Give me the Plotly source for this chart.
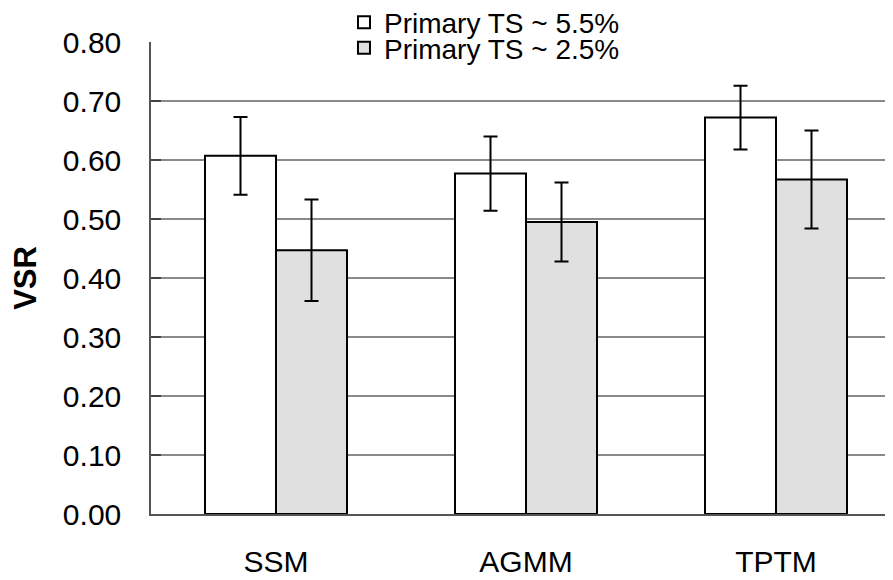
import plotly.graph_objects as go

categories = ["SSM", "AGMM", "TPTM"]
series_names = ["Primary TS ~ 5.5%", "Primary TS ~ 2.5%"]
vals_55 = [0.607, 0.577, 0.672]
err_55 = [0.066, 0.063, 0.054]
vals_25 = [0.447, 0.495, 0.567]
err_25 = [0.086, 0.067, 0.083]
y_ticks = [0.0, 0.1, 0.2, 0.3, 0.4, 0.5, 0.6, 0.7, 0.8]
y_ticktext = ["0.00", "0.10", "0.20", "0.30", "0.40", "0.50", "0.60", "0.70", "0.80"]

FONT = "Liberation Sans, Arial, sans-serif"
FS = 30
LFS = 28

fig = go.Figure()
# lower legend row (white box hides the top gridline) is drawn first,
# the upper row is drawn over it with a transparent background
fig.add_trace(go.Bar(
    x=categories, y=vals_55, name=series_names[0],
    marker=dict(color="white", line=dict(color="black", width=2)),
    error_y=dict(type="data", array=err_55, color="black", thickness=2, width=7),
    legend="legend2", showlegend=True,
))
fig.add_trace(go.Bar(
    x=categories, y=vals_25, name=series_names[1],
    marker=dict(color="#e0e0e0", line=dict(color="black", width=2)),
    error_y=dict(type="data", array=err_25, color="black", thickness=2, width=7),
    legend="legend", showlegend=True,
))

fig.update_layout(
    width=893, height=580,
    margin=dict(l=143, r=0, t=34, b=74, autoexpand=False),
    paper_bgcolor="white", plot_bgcolor="white",
    showlegend=True,
    barmode="group", bargap=0.432, bargroupgap=0,
    font=dict(family=FONT, size=FS, color="black"),
    legend2=dict(
        x=0.2573, y=1 + 19.5 / 472,
        xanchor="left", yanchor="middle",
        bgcolor="rgba(0,0,0,0)", borderwidth=0, font=dict(size=LFS),
        visible=True,
    ),
    legend=dict(
        x=0.2573, y=1 - 6 / 472,
        xanchor="left", yanchor="middle",
        bgcolor="white", borderwidth=0, font=dict(size=LFS),
        entrywidth=275, visible=True,
    ),
    xaxis=dict(
        range=[-0.5, 2.5], showgrid=False, zeroline=False,
        showline=True, linecolor="#555555", linewidth=1.5,
        ticks="", ticklabelstandoff=20, tickfont=dict(size=FS), tickangle=0,
    ),
    yaxis=dict(
        range=[0, 0.8], tickvals=y_ticks, ticktext=y_ticktext,
        showgrid=True, gridcolor="#8a8a8a", gridwidth=1.5, zeroline=False,
        showline=True, linecolor="#555555", linewidth=1.5,
        ticks="inside", ticklen=10, tickcolor="#444444", tickwidth=1.5,
        ticklabelstandoff=22, tickfont=dict(size=FS),
        title=dict(text="<b>VSR</b>", font=dict(size=31), standoff=23),
    ),
)

fig.write_html("out.html")
